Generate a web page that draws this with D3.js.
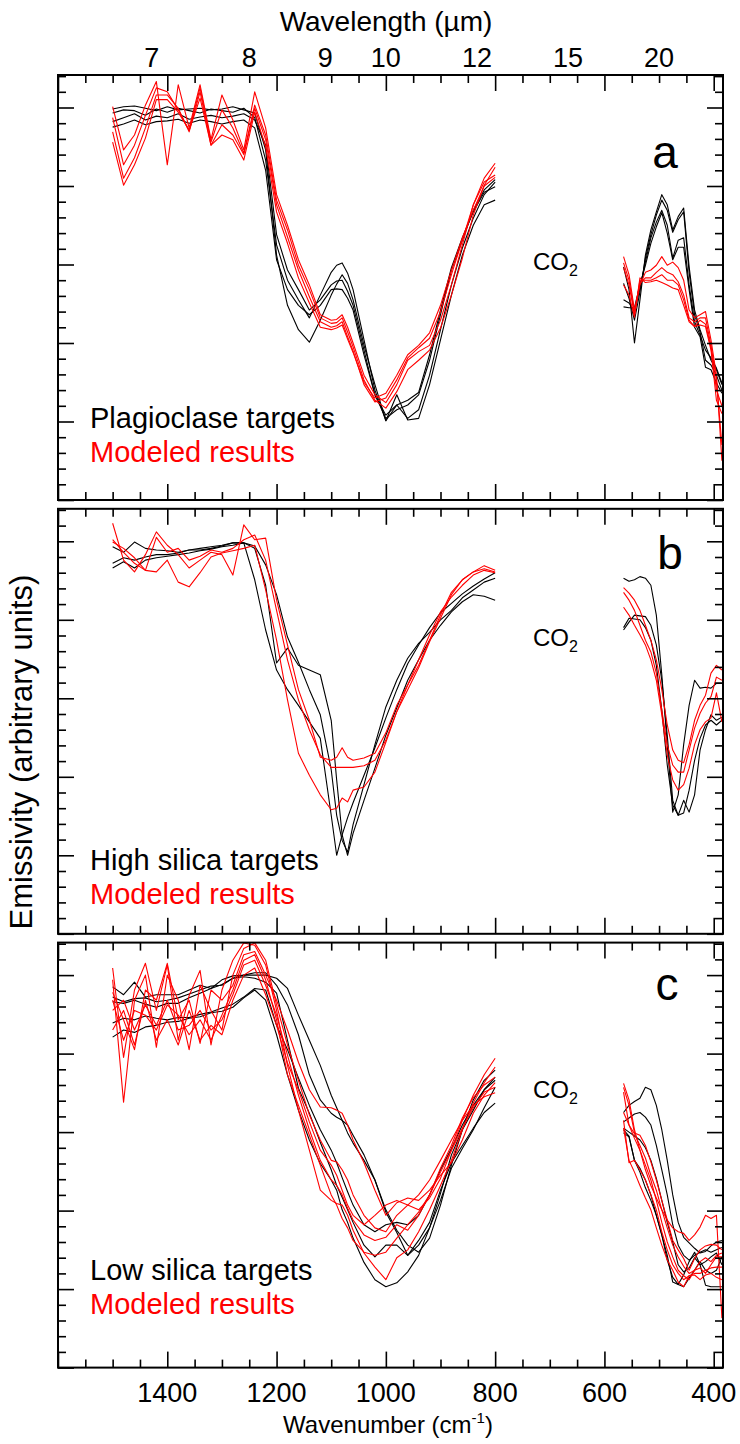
<!DOCTYPE html>
<html>
<head>
<meta charset="utf-8">
<script src="https://cdn.jsdelivr.net/npm/d3@7"></script>
<style>
  body { margin: 0; background: #fff; }
  text { font-family: "Liberation Sans", Arial, Helvetica, sans-serif; }
</style>
</head>
<body>
<div class="canva"></div>
<script>
// wavenumber grids (cm-1) for the two spectral windows
const waveShort = [1500,1480,1460,1440,1420,1400,1380,1360,1340,1320,1300,1280,1260,1240,1220,
  1200,1180,1160,1140,1120,1100,1090,1080,1070,1060,1040,1020,1000,980,960,940,920,900,880,860,840,820,800];
const waveLong = [565,555,545,535,525,515,505,495,485,475,465,455,445,435,425,415,405,395,385];

const wavenumberLabels = [1400,1200,1000,800,600,400];
const wavelengthLabels = [7,8,9,10,12,15,20];

// emissivity, arbitrary units (one major tick = 10)
// a: plagioclase targets / modeled
const plagTargetShort = [
  [49.8,50.1,50.2,49.9,49.6,50.1,49.7,49.8,49.9,49.7,49.8,50.1,49.7,49.3,44.6,31.2,24.8,21.7,20.1,22.9,26.1,27.5,28.7,27.6,25.5,19.7,14.7,10.1,13.4,10.2,10.4,14.7,20.4,26.1,31.2,35.0,37.6,38.2],
  [49.3,49.7,49.6,49.0,49.8,49.4,49.9,49.6,49.3,49.8,49.6,49.4,49.9,48.7,43.3,32.5,28.0,25.5,23.2,26.1,29.0,29.9,30.2,28.9,26.8,20.4,14.0,10.1,12.1,10.4,11.5,15.9,21.7,27.4,32.1,35.9,38.9,40.5],
  [48.2,48.7,49.2,48.4,48.9,48.7,49.2,48.5,48.8,49.0,48.7,48.9,49.2,48.4,45.2,33.8,29.3,26.8,24.2,25.5,27.4,27.9,28.0,26.6,24.8,19.1,13.4,10.4,11.5,12.1,13.4,17.8,23.6,29.3,33.1,36.9,39.5,40.8],
  [47.5,47.9,48.4,47.8,48.2,48.3,48.5,48.0,48.4,48.2,47.9,48.2,48.4,47.4,42.0,30.6,26.8,24.8,23.6,24.8,26.8,26.9,26.8,25.7,24.2,18.5,13.4,10.8,12.1,12.7,13.7,18.5,24.2,29.6,33.4,36.7,39.2,39.9]
];
const plagModelShort = [
  [50.1,44.6,46.5,50.3,53.3,42.7,52.9,47.4,52.9,45.9,51.6,48.4,44.6,52.0,47.4,38.9,35.0,30.6,27.4,23.6,22.9,23.0,23.6,22.0,20.0,15.9,13.4,12.4,14.7,17.8,18.9,19.7,22.9,27.4,32.5,37.6,41.0,42.9],
  [48.7,42.7,45.2,49.0,52.5,52.0,49.7,47.1,52.5,45.6,49.7,47.4,44.2,50.3,46.5,38.2,34.4,29.9,26.8,23.2,22.5,22.6,23.2,21.4,19.5,15.3,12.7,11.7,13.8,16.6,17.8,19.1,21.9,26.1,30.8,36.3,40.1,42.4],
  [46.9,41.0,43.6,47.4,51.6,51.6,49.9,46.9,52.0,45.2,47.8,46.5,44.0,49.9,45.9,37.6,33.5,29.3,25.9,22.7,22.0,22.2,22.7,20.8,19.0,14.7,12.5,13.0,15.3,18.1,19.4,20.6,24.0,28.7,33.1,37.6,40.5,41.4],
  [45.6,40.1,42.7,46.1,51.0,51.0,49.4,47.1,51.2,45.2,46.5,45.9,43.3,49.4,45.0,36.7,32.7,28.3,25.1,22.0,21.7,21.9,22.3,20.5,18.8,15.0,13.0,13.6,15.9,18.5,19.7,21.3,24.8,29.3,33.4,36.9,40.0,41.1]
];
const plagTargetLong = [
  [29.7,26.8,20.0,25.5,31.2,34.4,36.7,38.9,37.6,34.4,36.1,37.2,29.7,24.2,21.7,19.7,17.8,16.6,14.7],
  [27.6,25.7,22.9,26.5,30.8,33.8,36.3,38.2,36.9,34.1,35.7,36.7,29.0,23.6,21.4,17.8,17.2,15.9,14.0],
  [25.5,25.1,24.0,27.0,30.3,33.4,35.4,36.9,35.0,30.8,33.1,33.4,27.4,22.7,21.0,19.1,18.1,16.8,14.9],
  [24.6,24.5,24.5,27.4,29.9,32.7,34.8,36.6,34.0,30.6,32.2,32.2,26.8,22.0,20.8,16.9,16.6,14.9,13.6]
];
const plagModelLong = [
  [31.0,28.7,24.2,27.4,29.0,29.3,29.9,31.0,29.9,30.3,29.6,28.0,24.2,23.2,23.6,24.0,20.4,15.9,5.0],
  [30.2,28.0,23.8,27.6,28.3,28.3,29.0,29.6,29.0,28.7,27.8,26.1,23.2,22.7,23.2,23.2,19.7,15.3,7.0],
  [29.6,27.4,23.6,28.0,28.0,28.0,28.3,28.7,28.0,28.0,27.4,25.5,22.9,22.1,22.9,22.4,19.4,14.0,12.0],
  [27.4,26.1,23.3,28.3,27.7,27.8,28.0,27.7,27.4,27.0,26.8,24.8,22.7,22.1,22.3,22.1,19.1,12.7,11.0]
];

// b: high silica targets / modeled
const highSiTargetShort = [
  [49.3,48.6,49.9,49.1,48.9,48.8,48.6,48.9,49.1,49.3,49.5,49.8,49.8,45.1,38.7,33.6,31.1,29.1,27.0,24.9,15.1,10.0,12.6,14.8,16.7,20.2,23.7,27.5,31.1,34.4,36.8,39.0,40.9,42.1,43.3,44.3,45.2,46.0],
  [47.2,47.9,47.6,48.0,48.3,48.3,48.5,48.9,48.9,49.1,49.4,49.8,49.8,49.1,44.4,34.5,36.4,34.2,33.6,33.0,27.2,19.6,12.6,10.0,12.8,17.0,21.1,25.3,28.8,32.3,34.9,37.4,39.3,41.0,42.3,43.2,43.0,42.5],
  [46.6,47.4,46.6,47.6,47.9,48.1,48.3,48.5,48.8,49.0,49.3,49.5,49.8,49.4,47.0,43.2,37.8,34.6,31.1,27.9,20.9,15.1,11.9,10.4,13.9,19.0,24.1,28.9,32.3,35.1,37.0,38.4,40.0,41.2,42.8,43.8,44.8,45.3]
];
const highSiModelShort = [
  [52.3,47.6,46.1,48.3,51.2,49.5,48.3,46.6,47.6,48.6,48.3,45.7,52.1,50.2,50.4,42.5,36.8,31.1,27.2,22.5,22.1,22.5,23.7,22.5,22.1,22.4,23.0,25.6,29.1,31.7,34.2,37.4,40.6,43.5,45.1,46.1,46.5,46.1],
  [50.2,48.6,47.2,46.3,50.5,48.6,49.1,47.6,48.1,48.9,48.6,49.1,50.2,50.8,47.6,41.2,34.9,29.8,26.0,22.8,21.2,21.2,21.2,21.2,21.2,21.4,22.1,24.7,28.3,31.1,33.9,37.2,40.2,43.2,45.1,46.1,46.9,46.3],
  [49.9,49.1,47.9,46.3,46.1,47.6,44.8,44.2,46.0,48.0,48.5,48.8,49.1,49.5,43.8,37.4,29.8,23.0,20.2,17.7,15.8,16.0,17.3,16.8,18.3,18.7,20.6,24.4,28.3,31.7,34.9,38.1,41.0,42.9,44.4,45.7,46.3,46.0]
];
const highSiTargetLong = [
  [45.3,44.9,45.1,45.5,45.3,44.4,40.6,33.0,24.1,15.5,17.7,24.1,29.1,32.3,31.3,31.4,31.3,31.9,31.9],
  [38.7,39.7,40.6,40.5,40.4,39.3,36.8,32.3,25.3,17.0,15.1,17.0,15.5,17.7,23.4,26.0,27.9,27.2,27.6],
  [39.0,40.2,40.1,40.0,39.0,37.4,34.2,28.5,21.5,16.4,15.1,15.4,18.3,22.1,24.9,26.6,27.2,26.6,27.2]
];
const highSiModelLong = [
  [44.1,43.4,42.5,41.2,39.3,37.4,34.9,31.1,26.6,23.4,22.1,21.8,24.1,27.2,29.1,30.4,33.2,34.2,33.6],
  [43.5,42.5,41.2,39.3,37.4,35.9,33.2,28.5,24.1,21.5,20.6,20.6,23.4,26.2,28.1,29.4,30.2,32.7,32.3],
  [41.6,40.6,39.3,38.1,36.8,34.9,32.3,27.9,22.8,19.6,18.3,19.0,21.1,24.1,26.0,27.0,27.5,30.7,27.0]
];

// c: low silica targets / modeled
const lowSiTargetShort = [
  [42.1,43.0,42.7,43.4,43.6,44.0,44.1,44.5,44.7,45.2,45.4,45.9,47.1,48.1,46.8,42.4,37.3,32.8,29.0,26.0,23.9,22.6,20.1,18.5,16.5,13.4,11.2,10.3,10.8,12.2,14.3,17.8,22.2,27.1,30.3,32.8,35.4,37.0],
  [47.2,46.6,47.0,47.1,46.6,46.8,47.1,47.6,48.1,48.6,48.7,49.6,49.8,49.6,49.1,47.7,41.7,35.6,32.4,28.7,25.2,23.2,21.7,20.1,18.5,15.6,14.1,15.6,15.6,14.3,15.6,17.8,21.3,25.4,27.9,30.3,33.1,35.7],
  [48.5,47.5,49.1,47.2,47.5,47.5,47.5,48.1,48.7,48.3,49.4,49.9,50.0,50.3,50.3,48.7,46.2,42.4,37.3,34.1,32.4,31.9,31.5,30.9,29.6,27.1,23.9,20.1,17.5,15.6,14.7,16.5,20.7,25.8,30.3,34.1,36.6,37.9],
  [46.6,46.4,46.8,46.3,45.9,46.4,46.4,47.1,47.7,48.3,48.8,49.6,50.0,50.0,50.0,49.6,48.3,44.9,41.7,38.5,34.7,33.1,31.5,29.9,28.6,26.4,23.9,19.8,17.2,14.3,16.2,18.5,22.6,26.1,28.3,30.5,32.5,33.7],
  [43.9,44.5,44.3,44.8,44.5,44.3,44.6,44.6,45.0,45.3,45.8,46.3,47.2,48.3,48.1,43.6,40.5,36.9,33.4,30.3,27.7,26.1,24.2,22.4,20.7,18.2,17.3,18.2,18.5,18.2,19.4,22.0,25.2,27.9,30.9,33.4,35.4,36.6]
];
const lowSiModelShort = [
  [50.9,39.5,48.1,51.5,45.5,51.3,41.7,47.4,50.6,41.1,48.1,51.9,54.1,53.8,51.3,45.5,38.5,32.8,27.7,22.6,21.3,20.9,20.7,19.4,17.5,14.6,12.8,11.2,14.0,15.0,17.3,20.1,23.2,26.4,30.3,33.7,36.3,38.3],
  [49.4,33.8,46.8,50.0,40.8,50.0,46.8,40.5,48.7,45.5,43.0,50.0,53.4,54.1,51.9,46.2,41.1,36.6,32.2,29.0,26.4,26.2,25.2,23.9,22.0,19.4,17.8,17.3,19.4,20.7,20.1,21.6,24.1,27.7,31.5,34.7,37.3,39.4],
  [47.8,44.3,40.5,48.1,46.8,51.5,44.3,46.8,41.3,48.1,46.8,48.7,52.6,53.0,50.0,46.8,43.0,38.9,35.4,33.2,33.1,32.8,32.4,30.9,29.0,26.1,22.6,19.4,21.0,21.6,21.3,22.6,24.5,26.1,29.0,32.4,34.7,36.3],
  [45.5,46.8,43.0,46.2,43.6,46.8,43.0,43.6,45.5,43.0,44.3,47.5,51.3,51.9,48.7,44.9,39.8,34.7,30.3,26.4,23.9,23.2,22.0,20.3,18.8,16.9,16.2,16.6,18.2,17.5,19.4,22.0,25.4,28.3,31.8,34.4,36.0,37.0],
  [43.0,45.5,41.1,46.8,41.7,44.3,41.1,45.5,41.7,43.6,42.4,46.8,50.0,50.9,47.5,43.6,38.8,35.4,31.3,27.7,25.8,24.5,22.6,20.7,19.4,18.2,19.4,20.7,21.3,20.7,22.0,23.9,26.4,29.0,31.5,33.4,34.5,35.0],
  [46.8,41.7,45.5,44.9,43.0,46.2,44.9,42.4,44.3,41.7,44.9,48.1,51.9,52.6,49.4,44.3,37.3,33.4,29.6,25.8,22.0,20.7,19.0,17.8,16.2,14.7,14.3,14.7,16.5,18.2,19.8,22.0,24.9,27.7,30.5,33.1,35.1,35.7]
];
const lowSiTargetLong = [
  [32.5,33.4,33.9,34.3,35.7,35.4,33.4,30.3,26.4,22.0,18.5,16.6,15.9,15.2,14.6,14.8,15.5,16.0,16.2],
  [31.3,31.8,32.3,32.5,31.9,30.9,28.3,25.2,22.0,18.2,15.6,14.3,13.7,14.3,14.7,15.0,14.7,15.0,15.3],
  [30.5,30.0,29.5,29.0,28.0,26.4,24.1,21.3,18.5,16.0,13.1,12.2,12.7,14.0,13.1,13.5,14.1,14.6,13.1],
  [29.9,29.4,26.4,25.4,23.9,22.0,19.4,16.9,14.3,10.9,10.6,11.8,13.5,14.7,13.1,10.5,10.3,10.3,10.3],
  [30.3,29.5,26.4,24.9,22.9,21.3,19.4,16.9,13.7,11.5,10.6,10.3,11.4,12.4,13.5,12.4,12.0,12.4,14.1]
];
const lowSiModelLong = [
  [36.2,34.1,30.3,27.7,25.2,23.2,21.6,20.1,18.8,17.8,17.3,17.1,16.2,16.9,17.9,19.4,19.0,19.4,6.3],
  [35.7,33.4,29.9,29.6,28.3,26.2,23.9,21.3,18.8,16.2,15.0,13.9,12.4,13.9,15.0,15.5,15.7,15.6,15.0],
  [35.1,30.9,29.2,27.7,25.8,23.9,21.3,18.5,16.0,14.1,12.4,11.7,11.2,12.4,13.5,14.0,13.5,14.3,14.6],
  [32.5,30.9,29.8,28.3,26.7,24.5,22.6,20.1,17.8,15.6,14.1,12.9,12.0,12.4,12.7,12.0,13.1,14.1,14.1],
  [31.5,26.1,26.4,25.2,23.9,22.0,20.1,17.3,15.0,13.1,12.0,11.2,11.7,12.0,12.0,12.4,12.7,12.8,12.8],
  [30.5,26.4,24.9,23.2,21.6,20.1,17.8,15.6,13.7,12.4,10.9,10.3,11.7,11.8,11.2,11.8,12.0,11.5,11.2]
];

const panelLetters = ["a", "b", "c"];
const targetNames = ["Plagioclase targets", "High silica targets", "Low silica targets"];

// layout
const left = 58, right = 723;
const panelH = 425;
const panelTops = [75, 508.8, 942.6];
const letterPos = [[665, 168], [670, 569], [667, 1000]];
const legendY = [428, 870, 1280];
const co2Y = [270, 646, 1098];

const panels = [
  { targetShort: plagTargetShort, modelShort: plagModelShort, targetLong: plagTargetLong, modelLong: plagModelLong },
  { targetShort: highSiTargetShort, modelShort: highSiModelShort, targetLong: highSiTargetLong, modelLong: highSiModelLong },
  { targetShort: lowSiTargetShort, modelShort: lowSiModelShort, targetLong: lowSiTargetLong, modelLong: lowSiModelLong }
];

const svg = d3.select(".canva").append("svg")
  .attr("width", 740)
  .attr("height", 1444);

const x = d3.scaleLinear().domain([1600, 383]).range([left, right]);

const xMinor = d3.range(400, 1601, 50).filter(d => d % 200 !== 0);
const xMajor = d3.range(400, 1601, 200);
const yMinor = d3.range(0, 54.2, 2).filter(d => d % 10 !== 0);
const yMajor = d3.range(0, 54.2, 10);

function tickAxis(g, axis) {
  g.call(axis);
  g.select(".domain").remove();
  g.selectAll(".tick line").attr("stroke", "#000").attr("stroke-width", 1.6);
}

panels.forEach((p, i) => {
  const top = panelTops[i];
  const y = d3.scaleLinear().domain([0, panelH / 7.85]).range([top + panelH, top]);
  const g = svg.append("g");

  g.append("clipPath").attr("id", "clip" + i)
    .append("rect").attr("x", left).attr("y", top).attr("width", right - left).attr("height", panelH);

  const line = d3.line().x(d => x(d[0])).y(d => y(d[1]));
  const plot = g.append("g").attr("clip-path", "url(#clip" + i + ")");

  function draw(waves, series, color) {
    series.forEach(vals => {
      plot.append("path")
        .attr("d", line(waves.map((w, k) => [w, vals[k]])))
        .attr("fill", "none")
        .attr("stroke", color)
        .attr("stroke-width", 1.1)
        .attr("stroke-linejoin", "round");
    });
  }
  draw(waveShort, p.targetShort, "#000");
  draw(waveLong, p.targetLong, "#000");
  draw(waveShort, p.modelShort, "#ff0000");
  draw(waveLong, p.modelLong, "#ff0000");

  // ticks on all four sides, pointing inward
  [[xMajor, 16], [xMinor, 8]].forEach(([vals, len]) => {
    tickAxis(g.append("g").attr("transform", `translate(0,${top})`),
      d3.axisTop(x).tickValues(vals).tickSize(-len).tickFormat(""));
    tickAxis(g.append("g").attr("transform", `translate(0,${top + panelH})`),
      d3.axisBottom(x).tickValues(vals).tickSize(-len).tickFormat(""));
  });
  [[yMajor, 16], [yMinor, 8]].forEach(([vals, len]) => {
    tickAxis(g.append("g").attr("transform", `translate(${left},0)`),
      d3.axisLeft(y).tickValues(vals).tickSize(-len).tickFormat(""));
    tickAxis(g.append("g").attr("transform", `translate(${right},0)`),
      d3.axisRight(y).tickValues(vals).tickSize(-len).tickFormat(""));
  });

  g.append("rect")
    .attr("x", left).attr("y", top)
    .attr("width", right - left).attr("height", panelH)
    .attr("fill", "none").attr("stroke", "#000").attr("stroke-width", 2);

  g.append("text").text(panelLetters[i])
    .attr("x", letterPos[i][0]).attr("y", letterPos[i][1])
    .attr("font-size", 46).attr("text-anchor", "middle");

  g.append("text").text(targetNames[i])
    .attr("x", 90).attr("y", legendY[i])
    .attr("font-size", 29).attr("fill", "#000");
  g.append("text").text("Modeled results")
    .attr("x", 90).attr("y", legendY[i] + 34)
    .attr("font-size", 29).attr("fill", "#ff0000");

  const co2 = g.append("text").attr("x", 533).attr("y", co2Y[i]).attr("font-size", 24);
  co2.append("tspan").text("CO");
  co2.append("tspan").text("2").attr("font-size", 16).attr("dy", 6);
});

// top wavelength labels
svg.selectAll(".wl").data(wavelengthLabels).enter().append("text")
  .text(d => d)
  .attr("x", d => x(10000 / d))
  .attr("y", 67)
  .attr("font-size", 27)
  .attr("text-anchor", "middle");

svg.append("text").text("Wavelength (µm)")
  .attr("x", 386).attr("y", 31)
  .attr("font-size", 28).attr("text-anchor", "middle");

// bottom wavenumber labels
svg.selectAll(".wn").data(wavenumberLabels).enter().append("text")
  .text(d => d)
  .attr("x", d => x(d))
  .attr("y", 1402)
  .attr("font-size", 27)
  .attr("text-anchor", "middle");

const xt = svg.append("text")
  .attr("x", 388).attr("y", 1433)
  .attr("font-size", 24).attr("text-anchor", "middle");
xt.append("tspan").text("Wavenumber (cm");
xt.append("tspan").text("-1").attr("font-size", 15).attr("dy", -10);
xt.append("tspan").text(")").attr("dy", 10);

svg.append("text").text("Emissivity (arbitrary units)")
  .attr("transform", "translate(32,752) rotate(-90)")
  .attr("font-size", 31).attr("text-anchor", "middle");
</script>
</body>
</html>
